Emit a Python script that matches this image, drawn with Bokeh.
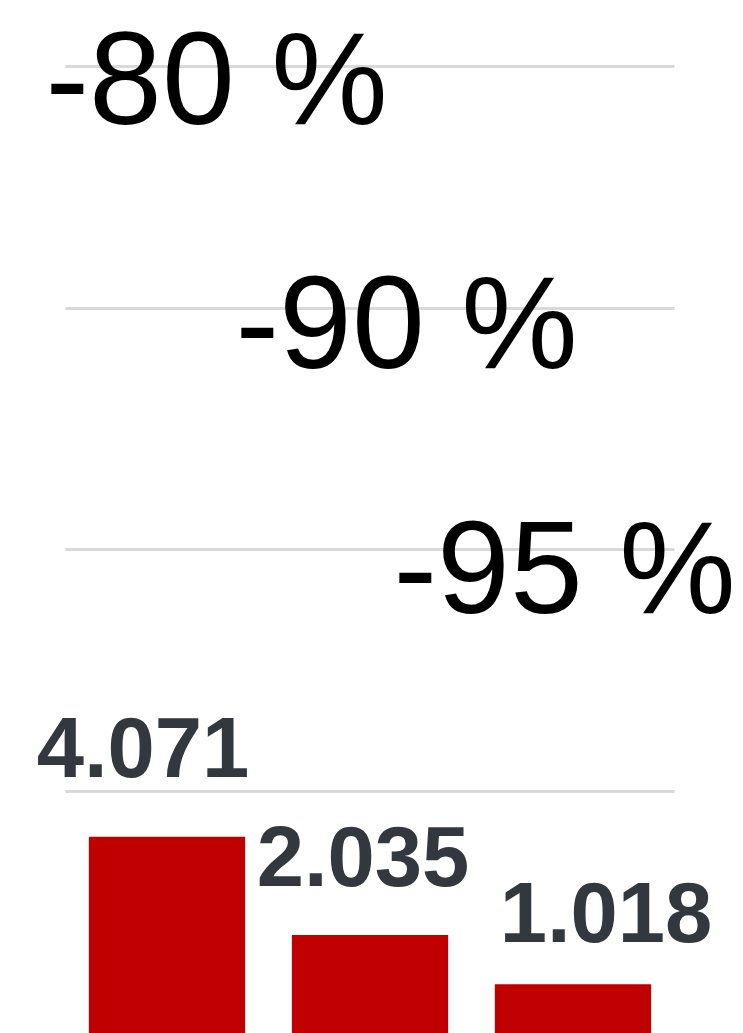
from bokeh.plotting import figure
from bokeh.models import ColumnDataSource, Range1d, FactorRange, Grid, FixedTicker, LabelSet, Label
from bokeh.embed import file_html
from bokeh.resources import INLINE
from bokeh.core.properties import value

# ---- data ----
categories = ["1", "2", "3"]
counts = [4071, 2035, 1018]
count_labels = ["4.071", "2.035", "1.018"]
reductions = ["-80 %", "-90 %", "-95 %"]
grid_ticks = [5000, 10000, 15000, 20000]

# ---- layout (screen offsets) ----
label_dx = [-24, -7, 33]
label_dy = [60, 49, 42]
red_x = [45, 235, 393]
red_y = [955, 711, 466]

p = figure(width=739, height=1033,
           x_range=FactorRange(factors=categories, range_padding=0.3202,
                               range_padding_units="absolute"),
           y_range=Range1d(0, 21365),
           output_backend="svg", toolbar_location=None,
           x_axis_location=None, y_axis_location=None,
           min_border_left=0, min_border_right=0,
           min_border_top=0, min_border_bottom=0)
p.outline_line_color = None
p.background_fill_color = "white"
p.border_fill_color = "white"
for g in p.grid:
    g.visible = False

p.add_layout(Grid(dimension=1, ticker=FixedTicker(ticks=grid_ticks), cross_bounds=(0, 3),
                  grid_line_color="#d9d9d9", grid_line_width=3), "center")

src = ColumnDataSource(dict(cat=categories, count=counts, label=count_labels,
                            dx=label_dx, dy=label_dy))

p.vbar(x="cat", top="count", bottom=0, width=0.77, source=src,
       fill_color="#c00000", line_color=None)

p.add_layout(LabelSet(x="cat", y="count", text="label", x_offset="dx", y_offset="dy",
                      source=src, text_align="center", text_baseline="alphabetic",
                      text_font=value("Liberation Sans"), text_font_style="bold",
                      text_font_size=value("85px"), text_color="#32383e"))

for t, x, y in zip(reductions, red_x, red_y):
    p.add_layout(Label(x=x, y=y, x_units="screen", y_units="screen", text=t,
                       text_font="Liberation Sans", text_font_size="131px",
                       text_color="black", text_align="left",
                       text_baseline="alphabetic"))

open("out.html", "w").write(file_html(p, INLINE))
